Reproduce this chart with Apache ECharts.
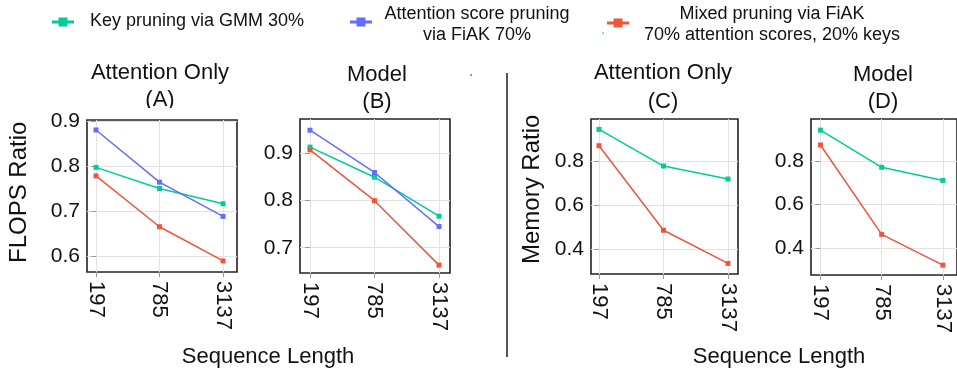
<!DOCTYPE html>
<html><head><meta charset="utf-8">
<script src="https://cdn.jsdelivr.net/npm/echarts@6/dist/echarts.min.js"></script>
<style>html,body{margin:0;padding:0;background:#fff}#c{width:957px;height:368px}</style>
</head><body><div id="c"></div><script>
// ---- data ----
const categories = ['197', '785', '3137'];
const seriesNames = ['Key pruning via GMM 30%', 'Attention score pruning via FiAK 70%', 'Mixed pruning via FiAK 70% attention scores, 20% keys'];
const colors = ['#00CC96', '#636EFA', '#EF553B'];

const flopsAttnKey   = [0.797, 0.750, 0.716];
const flopsAttnScore = [0.880, 0.764, 0.688];
const flopsAttnMixed = [0.778, 0.665, 0.589];

const flopsModelKey   = [0.914, 0.850, 0.767];
const flopsModelScore = [0.950, 0.860, 0.745];
const flopsModelMixed = [0.908, 0.800, 0.663];

const memAttnKey   = [0.943, 0.777, 0.718];
const memAttnMixed = [0.869, 0.486, 0.336];

const memModelKey   = [0.941, 0.771, 0.711];
const memModelMixed = [0.873, 0.464, 0.323];

const ticksA = [0.6, 0.7, 0.8, 0.9];
const ticksB = [0.7, 0.8, 0.9];
const ticksC = [0.4, 0.6, 0.8];
const ticksD = [0.4, 0.6, 0.8];

const FONT = 'Liberation Sans, Arial, Helvetica, sans-serif';

const panels = [
  { left: 87, top: 120, width: 150, height: 152, xmin: -0.142, xmax: 2.22, ymin: 0.5644, ymax: 0.9022, ticks: ticksA,
    series: [[0, flopsAttnKey], [1, flopsAttnScore], [2, flopsAttnMixed]] },
  { left: 300, top: 119, width: 150, height: 154, xmin: -0.155, xmax: 2.17, ymin: 0.6462, ymax: 0.9738, ticks: ticksB,
    series: [[0, flopsModelKey], [1, flopsModelScore], [2, flopsModelMixed]] },
  { left: 591, top: 119, width: 147, height: 155, xmin: -0.124, xmax: 2.155, ymin: 0.288, ymax: 0.990, ticks: ticksC,
    series: [[0, memAttnKey], [2, memAttnMixed]] },
  { left: 811, top: 119, width: 155, height: 156, xmin: -0.154, xmax: 2.23, ymin: 0.278, ymax: 0.992, ticks: ticksD,
    series: [[0, memModelKey], [2, memModelMixed]] }
];

const grid = [], xAxis = [], yAxis = [], series = [];
panels.forEach((p, i) => {
  grid.push({ left: p.left, top: p.top, width: p.width, height: p.height, show: true,
    borderColor: '#222', borderWidth: 1.6, backgroundColor: '#fff', containLabel: false });
  xAxis.push({ type: 'value', gridIndex: i, min: p.xmin, max: p.xmax,
    axisLine: { show: false },
    axisTick: { show: true, length: 5, lineStyle: { color: '#9a9a9a' }, customValues: [0, 1, 2] },
    axisLabel: { customValues: [0, 1, 2], rotate: -90, margin: 9, fontSize: 22, color: '#111', fontFamily: FONT,
      formatter: v => categories[Math.round(v)] },
    splitLine: { show: true, lineStyle: { color: '#e2e2e2', width: 1 } } });
  yAxis.push({ type: 'value', gridIndex: i, min: p.ymin, max: p.ymax,
    axisLine: { show: false },
    axisTick: { show: true, length: 5, lineStyle: { color: '#9a9a9a' }, customValues: p.ticks },
    axisLabel: { customValues: p.ticks, margin: 7, fontSize: 21, color: '#111', fontFamily: FONT,
      formatter: v => v.toFixed(1) },
    splitLine: { show: true, lineStyle: { color: '#e2e2e2', width: 1 } } });
  p.series.forEach(([k, vals]) => {
    series.push({ type: 'line', name: seriesNames[k], xAxisIndex: i, yAxisIndex: i,
      data: vals.map((v, j) => [j, v]), color: colors[k],
      symbol: 'rect', symbolSize: 5, showSymbol: true,
      lineStyle: { width: 1.5, color: colors[k] }, itemStyle: { color: colors[k] },
      animation: false, z: 3 });
  });
});

function txt(text, x, y, size, align) {
  return { type: 'text', x, y, silent: true,
    style: { text, fill: '#111', font: size + 'px ' + FONT, textAlign: align || 'center', textVerticalAlign: 'middle' } };
}
function legendMark(cx, cy, color) {
  return [
    { type: 'line', shape: { x1: cx - 11, y1: cy, x2: cx + 11, y2: cy }, style: { stroke: color, lineWidth: 3 } },
    { type: 'rect', shape: { x: cx - 4.5, y: cy - 4.5, width: 9, height: 9 }, style: { fill: color } }
  ];
}

const graphic = [
  // legend
  ...legendMark(63, 22, colors[0]),
  txt(seriesNames[0], 90, 21, 18, 'left'),
  ...legendMark(361, 22, colors[1]),
  txt('Attention score pruning', 477, 14, 18),
  txt('via FiAK 70%', 477, 35, 18),
  ...legendMark(618, 23, colors[2]),
  { type: 'rect', shape: { x: 602, y: 32, width: 2, height: 2 }, style: { fill: '#7fe0c4' } },
  txt('Mixed pruning via FiAK', 772, 14, 18),
  txt('70% attention scores, 20% keys', 772, 35, 18),
  // panel titles
  txt('Attention Only', 160, 73, 22),
  txt('(A)', 160, 100, 22),
  { type: 'rect', shape: { x: 140, y: 108, width: 40, height: 11 }, style: { fill: '#fff' }, z: 10 },
  txt('Model', 377, 75, 22),
  txt('(B)', 377, 102, 22),
  txt('Attention Only', 663, 73, 22),
  txt('(C)', 663, 102, 22),
  txt('Model', 883, 75, 22),
  txt('(D)', 883, 102, 22),
  // axis titles
  { type: 'text', x: 19, y: 263, rotation: Math.PI / 2, silent: true,
    style: { text: 'FLOPS Ratio', fill: '#111', font: '24px ' + FONT, textAlign: 'left', textVerticalAlign: 'middle' } },
  { type: 'text', x: 532, y: 264, rotation: Math.PI / 2, silent: true,
    style: { text: 'Memory Ratio', fill: '#111', font: '24px ' + FONT, textAlign: 'left', textVerticalAlign: 'middle' } },
  txt('Sequence Length', 268, 357, 22),
  txt('Sequence Length', 779, 357, 22),
  // divider
  { type: 'line', shape: { x1: 507, y1: 73, x2: 507, y2: 357 }, style: { stroke: '#555', lineWidth: 2 } },
  { type: 'rect', shape: { x: 470, y: 74, width: 2, height: 2 }, style: { fill: '#999' } }
];

const chart = echarts.init(document.getElementById('c'), null, { renderer: 'canvas' });
chart.setOption({ animation: false, backgroundColor: '#fff', grid, xAxis, yAxis, series, graphic });
</script></body></html>
